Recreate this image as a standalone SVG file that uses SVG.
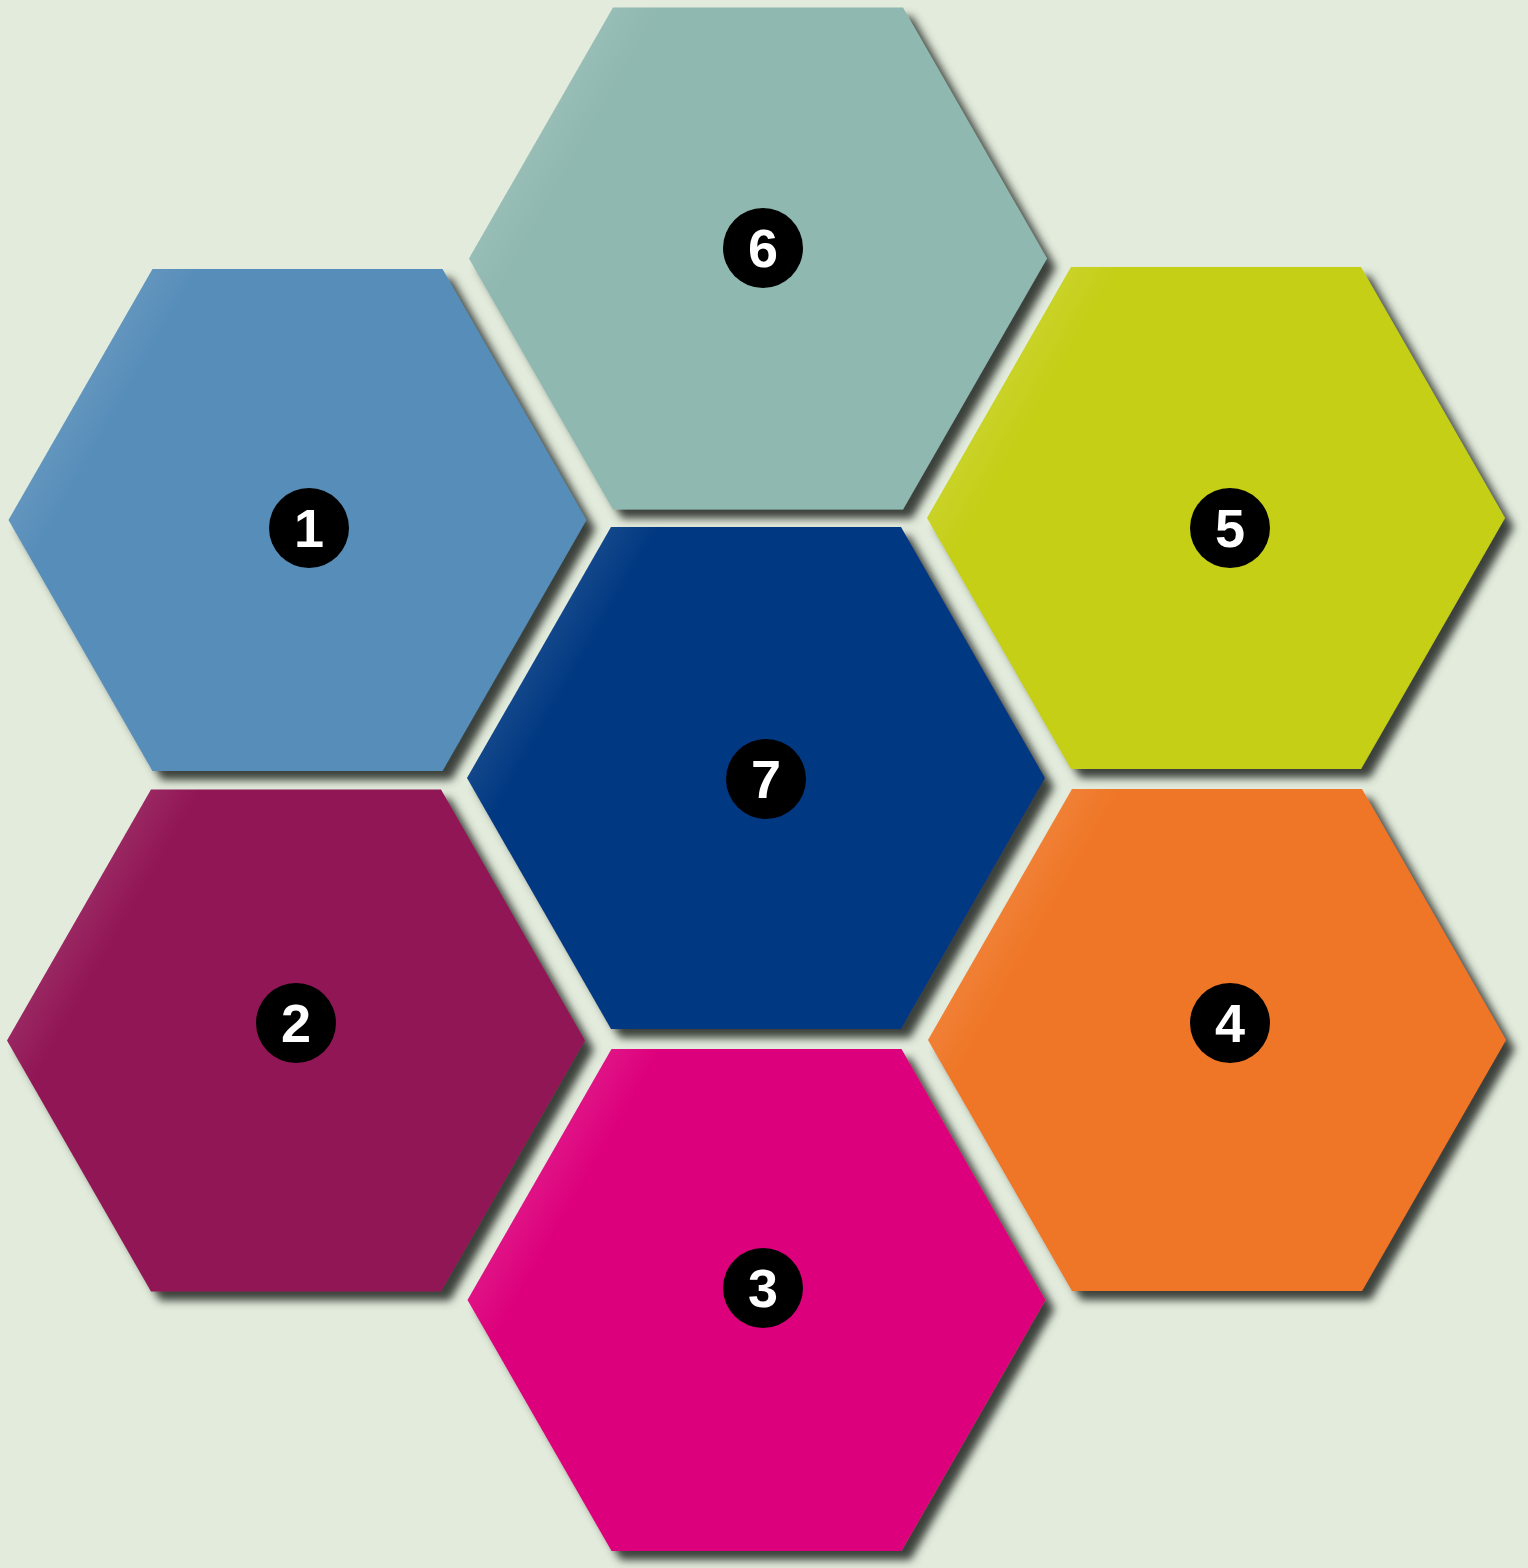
<svg xmlns="http://www.w3.org/2000/svg" width="1528" height="1568" viewBox="0 0 1528 1568">
<defs>
<filter id="sh" x="-10%" y="-10%" width="125%" height="125%">
<feGaussianBlur in="SourceAlpha" stdDeviation="4"/>
<feOffset dx="9" dy="9" result="o"/>
<feFlood flood-color="#3c413b"/>
<feComposite in2="o" operator="in"/>
<feMerge><feMergeNode/><feMergeNode in="SourceGraphic"/></feMerge>
</filter>
<linearGradient id="hl" gradientUnits="userSpaceOnUse" x1="-220" y1="-127" x2="-180" y2="-104">
<stop offset="0" stop-color="#fff" stop-opacity="0.08"/>
<stop offset="1" stop-color="#fff" stop-opacity="0"/>
</linearGradient>
<polygon id="hex" points="-145,-251 145,-251 289,0 145,251 -145,251 -289,0"/>
</defs>
<style>
.badge{fill:#000}
.num{font-family:"Liberation Sans",Arial,sans-serif;font-weight:bold;font-size:54px;fill:#fff;text-anchor:middle}
.hl{fill:url(#hl)}
</style>
<rect width="1528" height="1568" fill="#e2ebdc"/>
<g id="node6" transform="translate(758,258.5)"><g filter="url(#sh)"><use href="#hex" fill="#8fb8b0"/></g><use href="#hex" class="hl"/></g>
<g id="node1" transform="translate(297.5,520)"><g filter="url(#sh)"><use href="#hex" fill="#568db9"/></g><use href="#hex" class="hl"/></g>
<g id="node5" transform="translate(1216,518)"><g filter="url(#sh)"><use href="#hex" fill="#c5cf15"/></g><use href="#hex" class="hl"/></g>
<g id="node7" transform="translate(756,778)"><g filter="url(#sh)"><use href="#hex" fill="#033881"/></g><use href="#hex" class="hl"/></g>
<g id="node2" transform="translate(296,1040.5)"><g filter="url(#sh)"><use href="#hex" fill="#911455"/></g><use href="#hex" class="hl"/></g>
<g id="node4" transform="translate(1217,1040)"><g filter="url(#sh)"><use href="#hex" fill="#ef7625"/></g><use href="#hex" class="hl"/></g>
<g id="node3" transform="translate(756.5,1300)"><g filter="url(#sh)"><use href="#hex" fill="#dd047b"/></g><use href="#hex" class="hl"/></g>
<g id="badges">
<g id="b6"><circle class="badge" cx="763" cy="248" r="40"/><text class="num" x="763" y="267">6</text></g>
<g id="b1"><circle class="badge" cx="309" cy="528" r="40"/><text class="num" x="309" y="547">1</text></g>
<g id="b5"><circle class="badge" cx="1230" cy="528" r="40"/><text class="num" x="1230" y="547">5</text></g>
<g id="b7"><circle class="badge" cx="766" cy="779" r="40"/><text class="num" x="766" y="798">7</text></g>
<g id="b2"><circle class="badge" cx="296" cy="1023" r="40"/><text class="num" x="296" y="1042">2</text></g>
<g id="b4"><circle class="badge" cx="1230" cy="1023" r="40"/><text class="num" x="1230" y="1042">4</text></g>
<g id="b3"><circle class="badge" cx="763" cy="1288" r="40"/><text class="num" x="763" y="1307">3</text></g>
</g>
<g id="connectors"/>
</svg>
